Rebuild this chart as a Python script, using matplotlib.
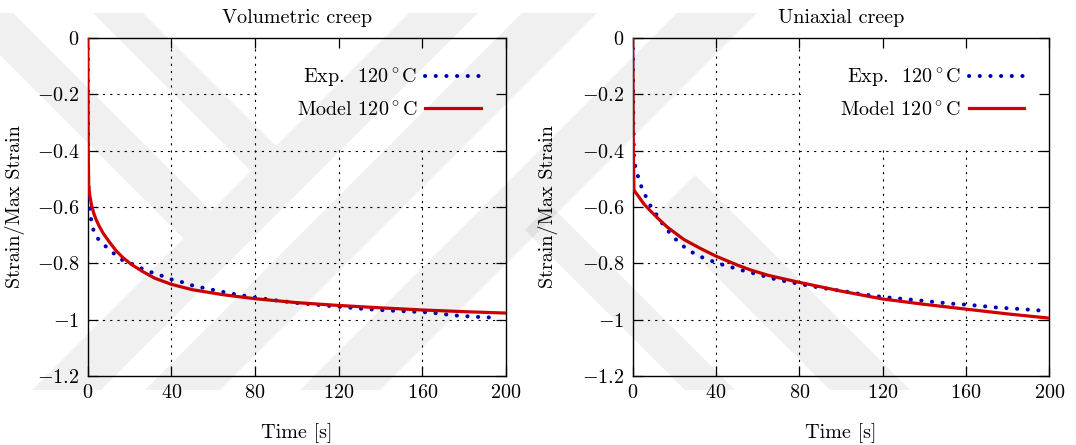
import matplotlib
matplotlib.use("Agg")
import matplotlib.pyplot as plt
from matplotlib.patches import Polygon, Rectangle

plt.rcParams.update({
    "font.family": "serif",
    "font.serif": ["cmr10"],
    "mathtext.fontset": "cm",
    "axes.formatter.use_mathtext": True,
    "font.size": 14.5,
})

# ---------------- data ----------------
vol_model_t = [0, 0.2, 0.5, 1, 2, 3, 4, 5.6, 7.5, 10.4, 13.5, 16.8, 21, 26.4, 32, 40,
               50, 64.8, 80, 100, 120, 141.6, 160, 180, 200]
vol_model_y = [0, -0.38, -0.525, -0.56, -0.60, -0.625, -0.645, -0.67, -0.695, -0.725, -0.755,
               -0.78, -0.805, -0.83, -0.853, -0.875, -0.894, -0.912, -0.926, -0.94, -0.95,
               -0.959, -0.966, -0.972, -0.977]

vol_exp_t = [0, 0.2, 0.5, 0.8, 1.5, 3.2, 6.4, 10.4, 14, 17.6, 22.4, 27.2, 32, 36.8, 41.6,
             46.4, 50.4, 60, 69.6, 79.2, 90, 100, 110, 120.8, 131.8, 141.6, 150, 163.7,
             174.8, 184.4, 194]
vol_exp_y = [0, -0.50, -0.55, -0.585, -0.64, -0.698, -0.726, -0.752, -0.775, -0.794, -0.806,
             -0.824, -0.836, -0.848, -0.862, -0.869, -0.88, -0.895, -0.909, -0.921, -0.932,
             -0.941, -0.948, -0.955, -0.962, -0.967, -0.97, -0.975, -0.985, -0.99, -0.993]

uni_model_t = [0, 0.3, 0.6, 1.5, 3, 5.4, 8.6, 12, 16.6, 24.6, 32.6, 40, 50, 56.6, 65, 80,
               100, 120, 140, 160, 180, 200]
uni_model_y = [0, -0.40, -0.54, -0.55, -0.565, -0.59, -0.615, -0.64, -0.672, -0.716, -0.748,
               -0.775, -0.806, -0.824, -0.843, -0.868, -0.899, -0.927, -0.946, -0.963, -0.98,
               -0.995]

uni_exp_t = [0, 0.3, 0.6, 1.4, 3, 4.6, 7, 9.4, 12.6, 15, 19, 23, 27.8, 31.8, 36.6, 40.6,
             45.4, 51, 55.8, 60.6, 65.4, 70.2, 75, 80.3, 90, 101, 110, 120.2, 136, 152,
             161.7, 176, 187, 197.6]
uni_exp_y = [0, -0.30, -0.418, -0.466, -0.502, -0.538, -0.573, -0.609, -0.639, -0.669, -0.702,
             -0.733, -0.758, -0.775, -0.788, -0.80, -0.81, -0.822, -0.832, -0.84, -0.851,
             -0.86, -0.866, -0.874, -0.887, -0.899, -0.91, -0.92, -0.931, -0.943, -0.948,
             -0.958, -0.963, -0.969]

x_ticks = [0, 40, 80, 120, 160, 200]
x_tick_labels = ["$0$", "$40$", "$80$", "$120$", "$160$", "$200$"]
y_ticks = [0, -0.2, -0.4, -0.6, -0.8, -1.0, -1.2]
y_tick_labels = ["$0$", "$-0.2$", "$-0.4$", "$-0.6$", "$-0.8$", "$-1$", "$-1.2$"]

titles = ["Volumetric creep", "Uniaxial creep"]
exp_label = r"Exp.  $120^\circ$C"
model_label = r"Model $120^\circ$C"

EXP_COLOR = "#0000bb"
MODEL_COLOR = "#d00000"

W, H = 1076, 445
fig = plt.figure(figsize=(W / 100, H / 100), dpi=100)

panels = [
    (87.7, 506.0, vol_exp_t, vol_exp_y, vol_model_t, vol_model_y, -0.150),
    (632.7, 1049.3, uni_exp_t, uni_exp_y, uni_model_t, uni_model_y, -0.179),
]
top_px, bot_px = 37.8, 375.9

for i, (x0, x1, et, ey, mt, my, ylab_x) in enumerate(panels):
    ax = fig.add_axes([x0 / W, 1 - bot_px / H, (x1 - x0) / W, (bot_px - top_px) / H])
    ax.set_xlim(0, 200)
    ax.set_ylim(-1.2, 0)

    # dotted grid
    for xv in x_ticks[1:-1]:
        ax.axvline(xv, color="black", lw=0.8, ls=(0, (2, 4.5)), zorder=1)
    for yv in y_ticks[1:-1]:
        ax.axhline(yv, color="black", lw=0.8, ls=(0, (2, 4.5)), zorder=1)
    # opaque key area hides the grid behind the legend
    ax.add_patch(Rectangle((81, -0.395), 119, 0.395, facecolor="white",
                           edgecolor="none", zorder=1.5))

    ax.plot(et, ey, color=EXP_COLOR, lw=2.9, ls=(0, (0.05, 2.6)),
            dash_capstyle="round", label=exp_label, zorder=3)
    ax.plot(mt, my, color=MODEL_COLOR, lw=2.3, label=model_label, zorder=4)

    ax.set_xticks(x_ticks)
    ax.set_xticklabels(x_tick_labels)
    ax.set_yticks(y_ticks)
    ax.set_yticklabels(y_tick_labels)
    ax.tick_params(direction="in", top=True, right=True, length=7, width=0.9,
                   labelsize=14.5, pad=6)
    for sp in ax.spines.values():
        sp.set_linewidth(1.0)

    ax.set_title(titles[i], fontsize=14.5, pad=11)
    ax.set_xlabel("Time [s]", fontsize=14.5)
    ax.xaxis.set_label_coords(0.5, -0.14)
    ax.set_ylabel("Strain/Max Strain", fontsize=14.5)
    ax.yaxis.set_label_coords(ylab_x, 0.5)

    ax.legend(loc="upper right", bbox_to_anchor=(0.94, 0.915), borderaxespad=0,
              borderpad=0, frameon=False, markerfirst=False, handlelength=2.77,
              handletextpad=0.38, labelspacing=0.55, fontsize=14.5)

# light watermark bands across the page
def band(points):
    fig.add_artist(Polygon([(x / W, 1 - y / H) for x, y in points], closed=True,
                           transform=fig.transFigure, facecolor=(0, 0, 0, 0.06),
                           edgecolor="none", zorder=10))

band([(409, 13), (478, 13), (101, 390), (32, 390)])
band([(522, 13), (597, 13), (220, 390), (145, 390)])
band([(677, 13), (757, 13), (380, 390), (300, 390)])
band([(-42, 13), (13, 13), (211, 211), (183.5, 238.5)])
band([(93, 13), (143, 13), (276, 146), (251, 171)])
band([(525, 230), (550, 205), (735, 390), (685, 390)])
band([(655, 215), (695, 175), (910, 390), (830, 390)])

fig.savefig("out.png", dpi=100)
